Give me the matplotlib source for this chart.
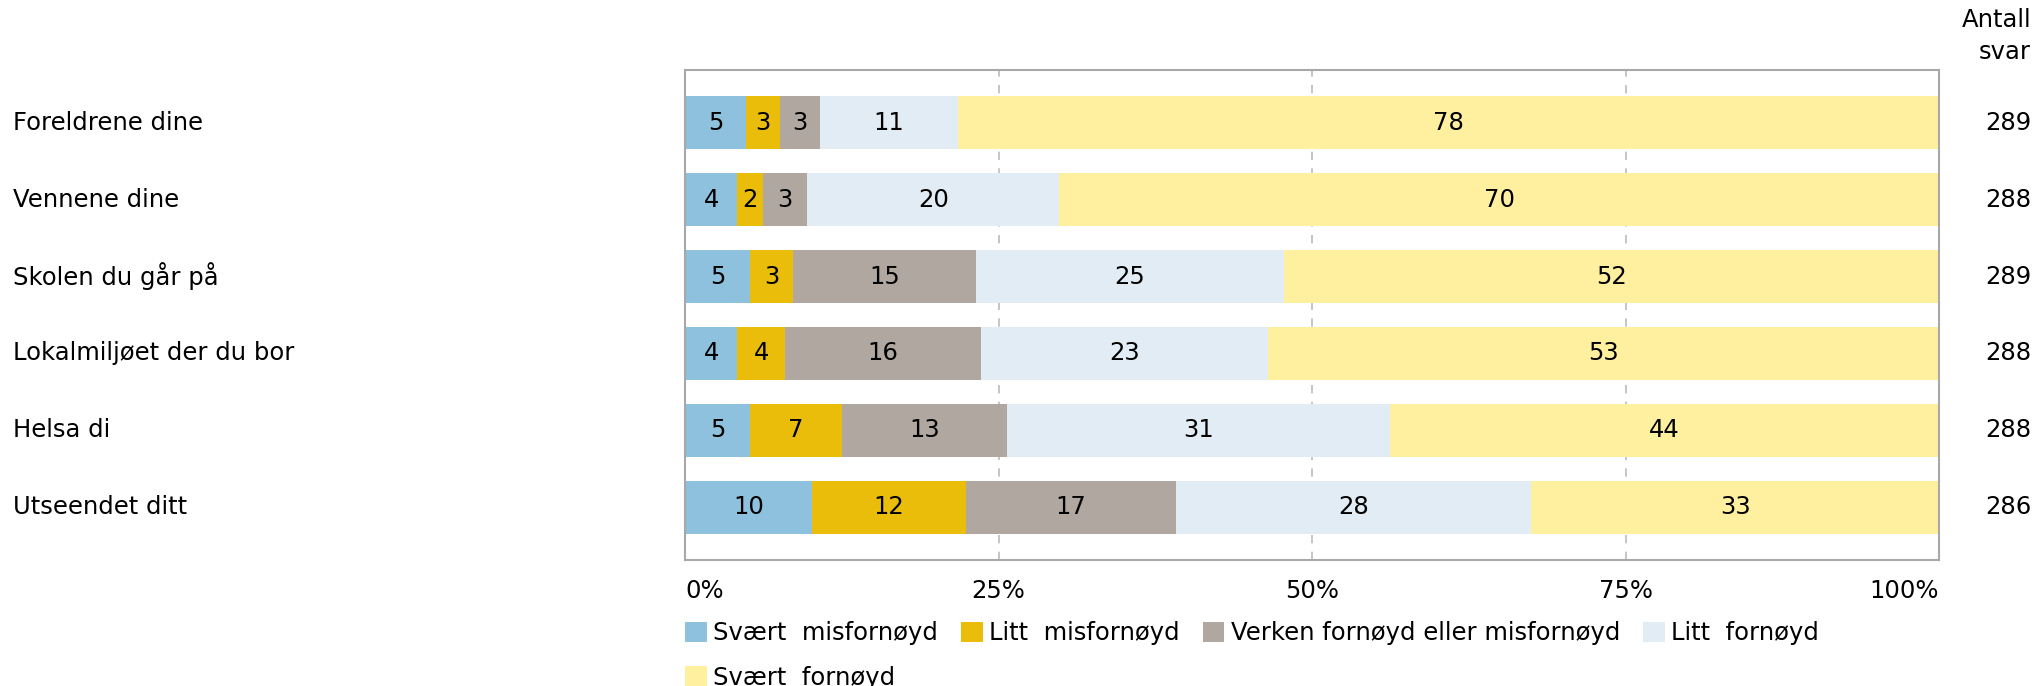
import matplotlib
matplotlib.use("Agg")
import matplotlib.pyplot as plt
from matplotlib.patches import Patch
from matplotlib.transforms import blended_transform_factory

# answer counts per item (rows) and response level (columns)
items = ['Foreldrene dine', 'Vennene dine', 'Skolen du går på',
         'Lokalmiljøet der du bor', 'Helsa di', 'Utseendet ditt']
svaert_misfornoyd = [14, 12, 15, 12, 15, 29]
litt_misfornoyd = [8, 6, 10, 11, 21, 35]
verken = [9, 10, 42, 45, 38, 48]
litt_fornoyd = [32, 58, 71, 66, 88, 81]
svaert_fornoyd = [226, 202, 151, 154, 126, 93]

levels = ['Svært  misfornøyd', 'Litt  misfornøyd', 'Verken fornøyd eller misfornøyd',
          'Litt  fornøyd', 'Svært  fornøyd']
colors = ['#8DC1DD', '#EBBD0B', '#AFA7A0', '#E2ECF5', '#FEF09E']
ticks = [0, 25, 50, 75, 100]
tick_labels = ['0%', '25%', '50%', '75%', '100%']

W, H = 2035, 686
FS = 17.5

series = [svaert_misfornoyd, litt_misfornoyd, verken, litt_fornoyd, svaert_fornoyd]
totals = [sum(col) for col in zip(*series)]

fig = plt.figure(figsize=(W / 100, H / 100), dpi=100)
ax = fig.add_axes([685 / W, 1 - 560 / H, 1254 / W, 490 / H])

left = [0.0] * len(items)
for vals, color in zip(series, colors):
    pct = [100 * v / t for v, t in zip(vals, totals)]
    ax.barh(range(len(items)), pct, left=left, height=0.7, color=color,
            linewidth=0, zorder=2)
    for i, p in enumerate(pct):
        ax.text(left[i] + p / 2, i, str(round(p)), ha='center', va='center',
                fontsize=FS, color='black', zorder=3)
    left = [a + b for a, b in zip(left, pct)]

ax.set_xlim(0, 100)
ax.set_ylim(5.682, -0.682)
ax.set_yticks([])
ax.set_xticks(ticks)
ax.set_xticklabels(tick_labels, fontsize=FS)
for lab, ha in zip(ax.get_xticklabels(), ['left', 'center', 'center', 'center', 'right']):
    lab.set_ha(ha)
ax.tick_params(axis='x', length=0, pad=14)
for x in ticks[1:-1]:
    ax.axvline(x, color='#BBBBBB', linestyle=(0, (5, 5)), linewidth=1.2, zorder=1)
for s in ax.spines.values():
    s.set_color('#A8A8A8')
    s.set_linewidth(1.5)

# item names on the left, answer totals on the right
trans = blended_transform_factory(fig.transFigure, ax.transData)
for i, name in enumerate(items):
    ax.text(13 / W, i, name, transform=trans, ha='left', va='center', fontsize=FS)
    ax.text(2031 / W, i, str(totals[i]), transform=trans, ha='right', va='center',
            fontsize=FS)
fig.text(2031 / W, 1 - 36 / H, 'Antall\nsvar', ha='right', va='center',
         multialignment='right', fontsize=FS, linespacing=1.45)

# legend fills column by column, so put the fifth level under the first
order = [0, 4, 1, 2, 3]
handles = [Patch(facecolor=colors[k], edgecolor='none') for k in order]
fig.legend(handles, [levels[k] for k in order], ncol=4, loc='upper left',
           bbox_to_anchor=(685 / W, 1 - 621 / H), frameon=False, fontsize=FS,
           borderpad=0, borderaxespad=0, handlelength=0.9, handleheight=0.9,
           handletextpad=0.25, columnspacing=0.95, labelspacing=0.85)

fig.savefig('out.png', dpi=100)
